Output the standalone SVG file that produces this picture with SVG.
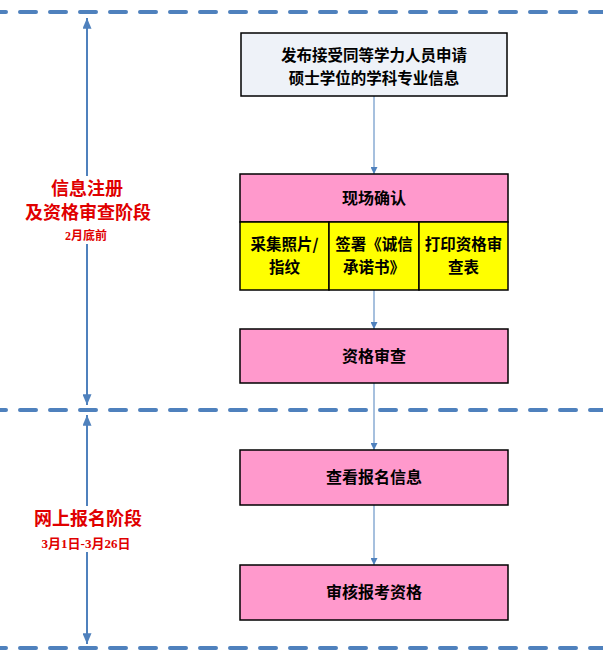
<svg xmlns="http://www.w3.org/2000/svg" width="603" height="672" viewBox="0 0 603 672">
<style>
.dash{stroke:#4F81BD;stroke-width:4;stroke-dasharray:16 14;stroke-dashoffset:10;stroke-linecap:round;fill:none}
.box{stroke:#000;stroke-width:1.5}
.pink{fill:#FF99CC}
.yel{fill:#FFFF00}
.t{font-family:"Noto Sans CJK SC","Liberation Sans",sans-serif;font-weight:bold;font-size:16px;fill:#000;text-anchor:middle}
.t2{font-size:15.5px}
.r{font-family:"Liberation Serif","Noto Sans CJK SC",serif;font-weight:bold;fill:#E00000;text-anchor:middle}
.con{stroke:#4F81BD;stroke-width:1;fill:none;marker-end:url(#sa)}
.axis{stroke:#4F81BD;stroke-width:2;fill:none}
</style>
<defs>
<marker id="sa" viewBox="0 0 10 10" refX="10" refY="5" markerWidth="7" markerHeight="7" markerUnits="userSpaceOnUse" orient="auto">
<path d="M0,0 L10,5 L0,10 z" fill="#4F81BD"/>
</marker>
<marker id="ba" viewBox="0 0 12 10" refX="12" refY="5" markerWidth="12" markerHeight="9" markerUnits="userSpaceOnUse" orient="auto-start-reverse">
<path d="M0,0 L12,5 L0,10 z" fill="#4F81BD"/>
</marker>
</defs>
<rect width="603" height="672" fill="#fff"/>
<g id="separators">
<line class="dash" x1="0" y1="12" x2="603" y2="12"/>
<line class="dash" x1="0" y1="410" x2="603" y2="410"/>
<line class="dash" x1="0" y1="648" x2="603" y2="648"/>
</g>
<g id="connectors">
<line class="axis" x1="87" y1="18" x2="87" y2="405" marker-start="url(#ba)" marker-end="url(#ba)"/>
<line class="axis" x1="87" y1="415" x2="87" y2="644" marker-start="url(#ba)" marker-end="url(#ba)"/>
<line class="con" x1="374" y1="96" x2="374" y2="174"/>
<line class="con" x1="374" y1="290" x2="374" y2="329"/>
<line class="con" x1="374" y1="383" x2="374" y2="450"/>
<line class="con" x1="374" y1="505" x2="374" y2="565"/>
</g>
<g id="phase1">
<rect x="30" y="176" width="115" height="68" fill="#fff"/>
<text class="r" x="87" y="195" font-size="18">信息注册</text>
<text class="r" x="88" y="219" font-size="18">及资格审查阶段</text>
<text class="r" x="86" y="240" font-size="12">2月底前</text>
</g>
<g id="phase2">
<rect x="28" y="506" width="120" height="46" fill="#fff"/>
<text class="r" x="88" y="525" font-size="18">网上报名阶段</text>
<text class="r" x="86" y="548" font-size="13">3月1日-3月26日</text>
</g>
<g id="n1">
<rect class="box" x="241" y="33" width="266" height="63" fill="#EEF2F8"/>
<text class="t t2" x="374" y="61">发布接受同等学力人员申请</text>
<text class="t t2" x="374" y="83.5">硕士学位的学科专业信息</text>
</g>
<g id="n2">
<rect class="box pink" x="240" y="174" width="268" height="48"/>
<text class="t" x="374" y="204">现场确认</text>
</g>
<g id="n2a">
<rect class="box yel" x="240" y="222" width="89" height="68"/>
<text class="t t2" x="284.5" y="250">采集照片/</text>
<text class="t t2" x="284.5" y="272.5">指纹</text>
</g>
<g id="n2b">
<rect class="box yel" x="329" y="222" width="90" height="68"/>
<text class="t t2" x="374" y="250">签署《诚信</text>
<text class="t t2" x="374" y="272.5">承诺书》</text>
</g>
<g id="n2c">
<rect class="box yel" x="419" y="222" width="89" height="68"/>
<text class="t t2" x="463.5" y="250">打印资格审</text>
<text class="t t2" x="463.5" y="272.5">查表</text>
</g>
<g id="n3">
<rect class="box pink" x="240" y="329" width="268" height="54"/>
<text class="t" x="374" y="362">资格审查</text>
</g>
<g id="n4">
<rect class="box pink" x="240" y="450" width="268" height="55"/>
<text class="t" x="374" y="483">查看报名信息</text>
</g>
<g id="n5">
<rect class="box pink" x="240" y="565" width="268" height="55"/>
<text class="t" x="374" y="598">审核报考资格</text>
</g>
</svg>
